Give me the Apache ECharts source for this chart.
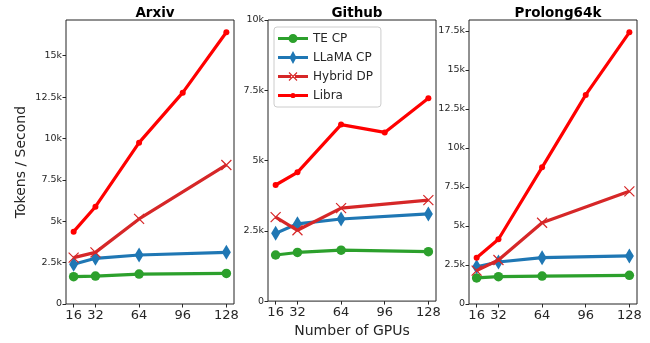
<!DOCTYPE html>
<html><head><meta charset="utf-8">
<script src="https://cdn.jsdelivr.net/npm/echarts@6/dist/echarts.min.js"></script>
<style>html,body{margin:0;padding:0;background:#fff}#c{width:650px;height:343px}</style>
</head><body><div id="c"></div>
<script>
var panels = ['Arxiv', 'Github', 'Prolong64k'];
var gpusLibra = [16, 32, 64, 96, 128];
var gpusBase = [16, 32, 64, 128];
var xTicks = [16, 32, 64, 96, 128];
var seriesNames = ['TE CP', 'LLaMA CP', 'Hybrid DP', 'Libra'];
// values in tokens/second
var arxivTE = [1650, 1690, 1810, 1850];
var arxivLLaMA = [2400, 2760, 2960, 3120];
var arxivHybrid = [2800, 3120, 5140, 8400];
var arxivLibra = [4370, 5880, 9750, 12770, 16420];
var githubTE = [1640, 1730, 1810, 1760];
var githubLLaMA = [2410, 2750, 2920, 3100];
var githubHybrid = [2990, 2520, 3310, 3590];
var githubLibra = [4130, 4580, 6280, 6000, 7220];
var prolongTE = [1670, 1750, 1790, 1840];
var prolongLLaMA = [2390, 2690, 2970, 3080];
var prolongHybrid = [2140, 2820, 5210, 7220];
var prolongLibra = [2970, 4150, 8760, 13400, 17410];
var yTicksArxiv = [0, 2500, 5000, 7500, 10000, 12500, 15000];
var yTicksGithub = [0, 2500, 5000, 7500, 10000];
var yTicksProlong = [0, 2500, 5000, 7500, 10000, 12500, 15000, 17500];
var yMax = [17160, 10000, 18200];

var data = [
  [arxivTE, arxivLLaMA, arxivHybrid, arxivLibra],
  [githubTE, githubLLaMA, githubHybrid, githubLibra],
  [prolongTE, prolongLLaMA, prolongHybrid, prolongLibra]
];
var yTicks = [yTicksArxiv, yTicksGithub, yTicksProlong];

function pairs(xs, ys) { return xs.map(function (x, i) { return [x, ys[i]]; }); }

var lefts = [66, 268, 469];
var W = 168;
var grids = [], xAxes = [], yAxes = [], series = [], titles = [];
var tc = '#262626';
var styles = [
  { color: '#2ca02c', symbol: 'circle', size: 9.5 },
  { color: '#1f77b4', symbol: 'path://M0,-10L5.5,0L0,10L-5.5,0Z', size: [9, 15] },
  { color: '#d62728', symbol: 'path://M0,0L10,10M10,0L0,10', size: 10 },
  { color: '#ff0000', symbol: 'circle', size: 6 }
];
// legend icons (line sample + marker), 30 x 14 box
var BOX = 'M0,0.5L0.01,0.5Z M0,13.5L0.01,13.5Z';
var LINE_L = 'M0,5.5L11,5.5L11,8.5L0,8.5Z';
var LINE_R = 'M19,5.5L30,5.5L30,8.5L19,8.5Z';
var legendIcons = [
  'path://' + BOX + LINE_L + LINE_R + 'M19.5,7A4.5,4.5 0 1,1 10.5,7A4.5,4.5 0 1,1 19.5,7Z',
  'path://' + LINE_L + LINE_R + 'M15,0.5L18.5,7L15,13.5L11.5,7Z M11,5.5L12.5,5.5L12.5,8.5L11,8.5Z M17.5,5.5L19,5.5L19,8.5L17.5,8.5Z',
  'path://' + BOX + LINE_L + LINE_R + 'M10.6,3.4L11.4,2.6L19.4,10.6L18.6,11.4Z M18.6,2.6L19.4,3.4L11.4,11.4L10.6,10.6Z M11,5.5L13,5.5L13,8.5L11,8.5Z M17,5.5L19,5.5L19,8.5L17,8.5Z',
  'path://' + BOX + 'M0,5.5L12.6,5.5L12.6,8.5L0,8.5Z M17.4,5.5L30,5.5L30,8.5L17.4,8.5Z M17.6,7A2.6,2.6 0 1,1 12.4,7A2.6,2.6 0 1,1 17.6,7Z'
];

for (var p = 0; p < 3; p++) {
  grids.push({ left: lefts[p], top: 20, width: W, height: 284, show: true, borderColor: '#222', borderWidth: 1, backgroundColor: 'transparent' });
  titles.push({ text: panels[p], left: lefts[p] + W / 2, top: 1, textAlign: 'center',
    textStyle: { fontFamily: 'DejaVu Sans', fontWeight: 'bold', fontSize: 13.5, color: '#000' } });
  xAxes.push({
    type: 'value', gridIndex: p, min: 10.4, max: 133.6,
    splitLine: { show: false },
    axisLine: { show: false },
    axisTick: { show: true, length: 3.5, customValues: xTicks, lineStyle: { color: tc } },
    axisLabel: { customValues: xTicks, fontFamily: 'DejaVu Sans', fontSize: 13, color: tc, margin: 5, formatter: function (v) { return String(v); } },
    name: p === 1 ? 'Number of GPUs' : '', nameLocation: 'middle', nameGap: 19,
    nameTextStyle: { fontFamily: 'DejaVu Sans', fontSize: 14, color: tc }
  });
  yAxes.push({
    type: 'value', gridIndex: p, min: 0, max: yMax[p],
    splitLine: { show: false },
    axisLine: { show: false },
    axisTick: { show: true, length: 3.5, customValues: yTicks[p], lineStyle: { color: tc } },
    axisLabel: { customValues: yTicks[p], fontFamily: 'DejaVu Sans', fontSize: 9.5, color: tc, margin: 4,
      formatter: function (v) { return v === 0 ? '0' : (v / 1000) + 'k'; } },
    name: p === 0 ? 'Tokens / Second' : '', nameLocation: 'middle', nameGap: 38,
    nameTextStyle: { fontFamily: 'DejaVu Sans', fontSize: 14, color: tc }
  });
  for (var s = 0; s < 4; s++) {
    var st = styles[s];
    var xs = s === 3 ? gpusLibra : gpusBase;
    var item = { color: st.color };
    if (s === 2) item = { color: st.color, borderColor: st.color, borderWidth: 1.2 };
    series.push({
      type: 'line', name: seriesNames[s], xAxisIndex: p, yAxisIndex: p,
      data: pairs(xs, data[p][s]),
      symbol: st.symbol, symbolSize: st.size, showSymbol: true,
      lineStyle: { color: st.color, width: 3.2 },
      itemStyle: item,
      z: 2 + s,
      animation: false, silent: true
    });
  }
}

var chart = echarts.init(document.getElementById('c'), null, { renderer: 'canvas' });
chart.setOption({
  animation: false,
  title: titles,
  grid: grids,
  xAxis: xAxes,
  yAxis: yAxes,
  legend: {
    data: seriesNames.map(function (n, i) {
      return { name: n, icon: legendIcons[i], itemStyle: { color: styles[i].color, borderWidth: 0 } };
    }),
    orient: 'vertical', left: 274, top: 27,
    itemWidth: 30, itemHeight: 14, itemGap: 6,
    padding: [5, 8, 5, 4],
    borderColor: '#ccc', borderWidth: 1, borderRadius: 3, backgroundColor: 'rgba(255,255,255,0.8)',
    textStyle: { fontFamily: 'DejaVu Sans', fontSize: 12, color: tc },
    selectedMode: false
  },
  series: series
});
</script></body></html>
